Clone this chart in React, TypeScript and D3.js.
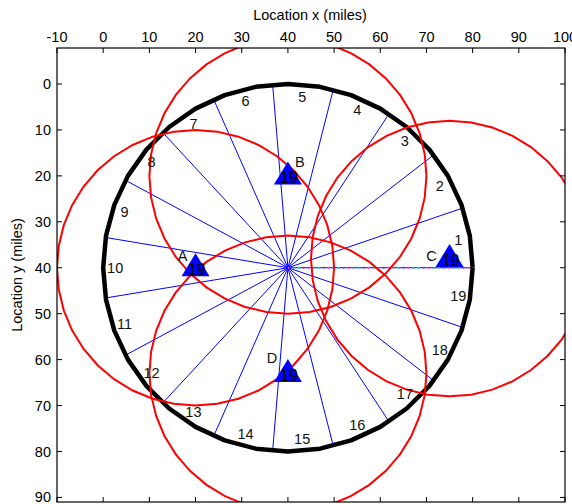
import React from 'react';
import * as d3 from 'd3';

// axis ticks
const xTicks = [-10, 0, 10, 20, 30, 40, 50, 60, 70, 80, 90, 100];
const yTicks = [0, 10, 20, 30, 40, 50, 60, 70, 80, 90];

// service region (circle) and its sectors
const regionCenter = [40, 40];
const regionRadius = 40;
const sectorLabels = ['1', '2', '3', '4', '5', '6', '7', '8', '9', '10',
  '11', '12', '13', '14', '15', '16', '17', '18', '19'];

// stations
const stationNames = ['A', 'B', 'C', 'D'];
const stationX = [20, 40, 75, 40];
const stationY = [40, 20, 38, 63];
const stationCounts = ['19', '19', '19', '19'];
const stationRanges = [30, 30, 30, 30];

const W = 572;
const H = 504;
const M = { left: 57, right: 565, top: 48, bottom: 502 };
const FONT = 'Liberation Sans, Arial, Helvetica, sans-serif';

// where each station letter sits relative to its marker (px)
const letterOffset = [[-13, -7], [12, -9], [-18, 2.5], [-16, -10]];

const App = () => {
  const x = d3.scaleLinear().domain([-10, 100]).range([M.left, M.right]);
  const y = d3.scaleLinear().domain([-7.84, 91]).range([M.top, M.bottom]);

  const circlePath = (cx: number, cy: number, r: number, n: number) => {
    const pts = d3.range(n + 1).map((i) => {
      const t = (i / n) * 2 * Math.PI;
      return [x(cx + r * Math.cos(t)), y(cy - r * Math.sin(t))] as [number, number];
    });
    return d3.line()(pts);
  };

  const n = sectorLabels.length;
  const step = (2 * Math.PI) / n;
  const [cx, cy] = regionCenter;
  const spokes = sectorLabels.map((_, k) => {
    const t = k * step;
    return {
      x1: x(cx), y1: y(cy),
      x2: x(cx + regionRadius * Math.cos(t)), y2: y(cy - regionRadius * Math.sin(t)),
    };
  });
  const labels = sectorLabels.map((s, k) => {
    const t = (k + 0.5) * step;
    const r = regionRadius * 0.935;
    return { s, px: x(cx + r * Math.cos(t)), py: y(cy - r * Math.sin(t)) };
  });

  const triPath = (px: number, py: number) =>
    `M${px},${py - 14.5}L${px + 14},${py + 8.5}L${px - 14},${py + 8.5}Z`;

  return (
    <svg width={W} height={H} style={{ position: 'absolute', left: 0, top: 0, background: '#fff' }}
      fontFamily={FONT}>
      <defs>
        <clipPath id="plotClip">
          <rect x={M.left} y={M.top} width={M.right - M.left} height={M.bottom - M.top} />
        </clipPath>
      </defs>
      <rect x={0} y={0} width={W} height={H} fill="#fff" />

      {/* axis titles */}
      <text x={(M.left + M.right) / 2 - 1} y={20} fontSize={14.5} textAnchor="middle">Location x (miles)</text>
      <text transform={`translate(22,${(M.top + M.bottom) / 2}) rotate(-90)`} fontSize={14.5}
        textAnchor="middle">Location y (miles)</text>

      {/* tick labels */}
      {xTicks.map((t) => (
        <text key={'xl' + t} x={x(t)} y={42} fontSize={14.5} textAnchor="middle">{t}</text>
      ))}
      {yTicks.map((t) => (
        <text key={'yl' + t} x={51} y={y(t)} dy="0.35em" fontSize={14.5} textAnchor="end">{t}</text>
      ))}

      <g clipPath="url(#plotClip)">
        {/* spokes */}
        {spokes.map((s, i) => (
          <line key={'sp' + i} {...s} stroke="#0000ff" strokeWidth={1} />
        ))}
        {/* colored dots along the first spoke */}
        {['#ff44cc', '#33bb55', '#22ccee', '#9933cc'].map((c, i) => (
          <line key={'dd' + i} {...spokes[0]} stroke={c} strokeWidth={2}
            strokeDasharray="1.5 18.5" strokeDashoffset={-5 * i} />
        ))}

        {/* region boundary */}
        <path d={circlePath(cx, cy, regionRadius, 36) || ''} fill="none" stroke="#000"
          strokeWidth={4.5} strokeLinejoin="round" />

        {/* station ranges */}
        {stationNames.map((nm, i) => (
          <path key={'rc' + nm} d={circlePath(stationX[i], stationY[i], stationRanges[i], 40) || ''}
            fill="none" stroke="#ff0000" strokeWidth={2} />
        ))}
      </g>

      {/* sector numbers */}
      {labels.map((l) => (
        <text key={'lb' + l.s} x={l.px} y={l.py} dy="0.35em" fontSize={14.5} textAnchor="middle"
          fill="#111">{l.s}</text>
      ))}

      {/* stations */}
      {stationNames.map((nm, i) => {
        const px = x(stationX[i]);
        const py = y(stationY[i]);
        return (
          <g key={'st' + nm}>
            <path d={triPath(px, py)} fill="#0000ff" />
            <text x={px + 1} y={py + 7.5} fontSize={16} textAnchor="middle" fill="#000">
              {stationCounts[i]}
            </text>
            <text x={px + letterOffset[i][0]} y={py + letterOffset[i][1]} fontSize={14.5}
              textAnchor="middle" fill="#111">{nm}</text>
          </g>
        );
      })}

      {/* axes box and ticks */}
      <rect x={M.left} y={M.top} width={M.right - M.left} height={M.bottom - M.top} fill="none"
        stroke="#000" strokeWidth={1.2} />
      {xTicks.map((t) => (
        <g key={'xt' + t}>
          <line x1={x(t)} x2={x(t)} y1={M.top} y2={M.top + 5} stroke="#000" />
          <line x1={x(t)} x2={x(t)} y1={M.bottom} y2={M.bottom - 5} stroke="#000" />
        </g>
      ))}
      {yTicks.map((t) => (
        <g key={'yt' + t}>
          <line x1={M.left} x2={M.left + 5} y1={y(t)} y2={y(t)} stroke="#000" />
          <line x1={M.right} x2={M.right - 5} y1={y(t)} y2={y(t)} stroke="#000" />
        </g>
      ))}
    </svg>
  );
};

export default App;
